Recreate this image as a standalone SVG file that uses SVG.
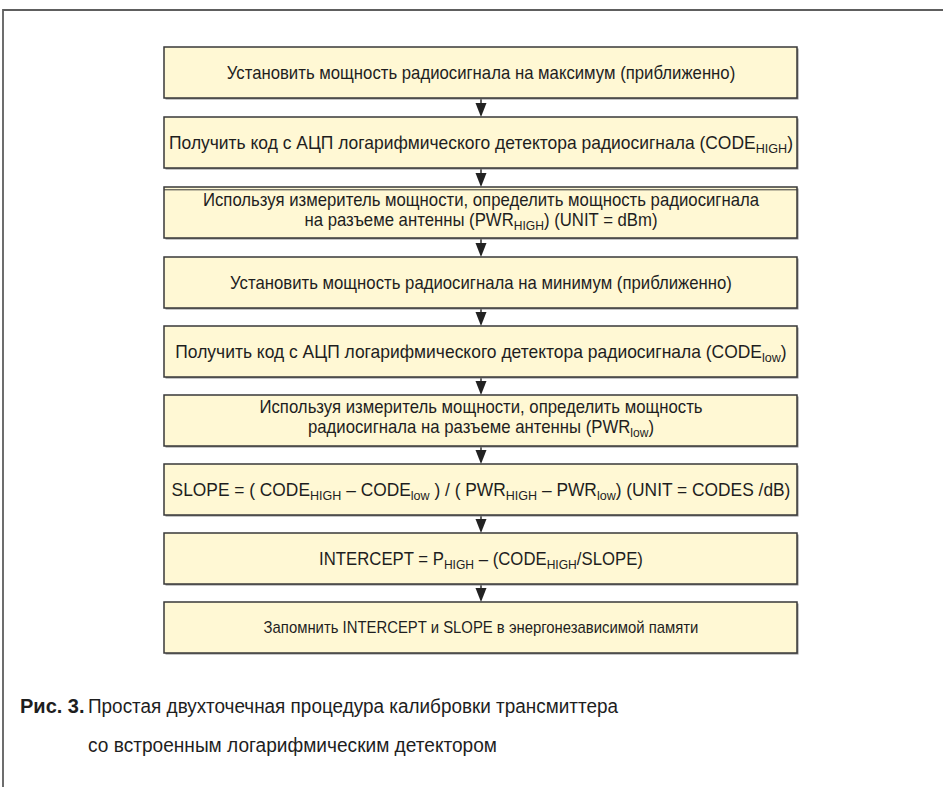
<svg xmlns="http://www.w3.org/2000/svg" width="943" height="787" viewBox="0 0 943 787">
<style>
.box{fill:#fff8d4;stroke:#383838;stroke-width:1.5}
.shd{fill:#8c8c8c}
.t{font-family:"Liberation Sans",Arial,sans-serif;font-size:18px;fill:#1e1e1e;text-anchor:middle}
.t9{font-family:"Liberation Sans",Arial,sans-serif;font-size:16px;fill:#1e1e1e;text-anchor:middle}
.s{font-size:13px}
.cap{font-family:"Liberation Sans",Arial,sans-serif;font-size:20px;fill:#1e1e1e}
.b{font-weight:bold}
.ln{stroke:#222;stroke-width:1.4;fill:none}
.ah{fill:#222}
.fr{stroke:#5e5e5e;stroke-width:1.8;fill:none}
</style>
<rect x="0" y="0" width="943" height="787" fill="#ffffff"/>
<path class="fr" d="M943,10 H3 V787"/>

<g id="connectors">
<line class="ln" x1="481" y1="98" x2="481" y2="106"/><polygon class="ah" points="475.5,103 486.5,103 481,117"/>
<line class="ln" x1="481" y1="168" x2="481" y2="176"/><polygon class="ah" points="475.5,173 486.5,173 481,187"/>
<line class="ln" x1="481" y1="238" x2="481" y2="246"/><polygon class="ah" points="475.5,243 486.5,243 481,257"/>
<line class="ln" x1="481" y1="308" x2="481" y2="315"/><polygon class="ah" points="475.5,312 486.5,312 481,326"/>
<line class="ln" x1="481" y1="377" x2="481" y2="384"/><polygon class="ah" points="475.5,381 486.5,381 481,395"/>
<line class="ln" x1="481" y1="446" x2="481" y2="453"/><polygon class="ah" points="475.5,450 486.5,450 481,464"/>
<line class="ln" x1="481" y1="515" x2="481" y2="522"/><polygon class="ah" points="475.5,519 486.5,519 481,533"/>
<line class="ln" x1="481" y1="584" x2="481" y2="591"/><polygon class="ah" points="475.5,588 486.5,588 481,602"/>
</g>

<g id="n1">
<rect class="shd" x="165.5" y="48.5" width="633" height="51"/>
<rect class="box" x="164" y="47" width="633" height="51"/>
<text class="t" transform="translate(481,79) scale(0.93,1)">Установить мощность радиосигнала на максимум (приближенно)</text>
</g>
<g id="n2">
<rect class="shd" x="165.5" y="118.5" width="633" height="51"/>
<rect class="box" x="164" y="117" width="633" height="51"/>
<text class="t" transform="translate(481,149) scale(0.97,1)">Получить код с АЦП логарифмического детектора радиосигнала (CODE<tspan class="s" dy="4">HIGH</tspan><tspan dy="-4">)</tspan></text>
</g>
<g id="n3">
<rect class="shd" x="165.5" y="188.5" width="633" height="51"/>
<rect class="box" x="164" y="187" width="633" height="51"/>
<line x1="164" y1="189.8" x2="797" y2="189.8" stroke="#383838" stroke-width="1"/>
<text class="t" transform="translate(481,206) scale(0.93,1)">Используя измеритель мощности, определить мощность радиосигнала</text>
<text class="t" transform="translate(481,226) scale(0.93,1)">на разъеме антенны (PWR<tspan class="s" dy="4">HIGH</tspan><tspan dy="-4">) (UNIT = dBm)</tspan></text>
</g>
<g id="n4">
<rect class="shd" x="165.5" y="258.5" width="633" height="51"/>
<rect class="box" x="164" y="257" width="633" height="51"/>
<text class="t" transform="translate(481,289) scale(0.93,1)">Установить мощность радиосигнала на минимум (приближенно)</text>
</g>
<g id="n5">
<rect class="shd" x="165.5" y="327.5" width="633" height="51"/>
<rect class="box" x="164" y="326" width="633" height="51"/>
<text class="t" transform="translate(481,358) scale(0.97,1)">Получить код с АЦП логарифмического детектора радиосигнала (CODE<tspan class="s" dy="4">low</tspan><tspan dy="-4">)</tspan></text>
</g>
<g id="n6">
<rect class="shd" x="165.5" y="396.5" width="633" height="51"/>
<rect class="box" x="164" y="395" width="633" height="51"/>
<text class="t" transform="translate(481,413) scale(0.93,1)">Используя измеритель мощности, определить мощность</text>
<text class="t" transform="translate(481,433) scale(0.93,1)">радиосигнала на разъеме антенны (PWR<tspan class="s" dy="4">low</tspan><tspan dy="-4">)</tspan></text>
</g>
<g id="n7">
<rect class="shd" x="165.5" y="465.5" width="633" height="51"/>
<rect class="box" x="164" y="464" width="633" height="51"/>
<text class="t" transform="translate(481,496) scale(0.965,1)">SLOPE = ( CODE<tspan class="s" dy="4">HIGH</tspan><tspan dy="-4"> – CODE</tspan><tspan class="s" dy="4">low</tspan><tspan dy="-4"> ) / ( PWR</tspan><tspan class="s" dy="4">HIGH</tspan><tspan dy="-4"> – PWR</tspan><tspan class="s" dy="4">low</tspan><tspan dy="-4">) (UNIT = CODES /dB)</tspan></text>
</g>
<g id="n8">
<rect class="shd" x="165.5" y="534.5" width="633" height="51"/>
<rect class="box" x="164" y="533" width="633" height="51"/>
<text class="t" transform="translate(481,565) scale(0.93,1)">INTERCEPT =  P<tspan class="s" dy="4">HIGH</tspan><tspan dy="-4"> – (CODE</tspan><tspan class="s" dy="4">HIGH</tspan><tspan dy="-4">/SLOPE)</tspan></text>
</g>
<g id="n9">
<rect class="shd" x="165.5" y="603.5" width="633" height="51"/>
<rect class="box" x="164" y="602" width="633" height="51"/>
<text class="t9" transform="translate(481,633) scale(0.93,1)">Запомнить INTERCEPT и SLOPE в энергонезависимой памяти</text>
</g>

<g id="caption">
<text class="cap b" x="20" y="713">Рис. 3.</text>
<text class="cap" x="88" y="713" textLength="530" lengthAdjust="spacingAndGlyphs">Простая двухточечная процедура калибровки трансмиттера</text>
<text class="cap" x="88" y="752" textLength="409" lengthAdjust="spacingAndGlyphs">со встроенным логарифмическим детектором</text>
</g>
</svg>
